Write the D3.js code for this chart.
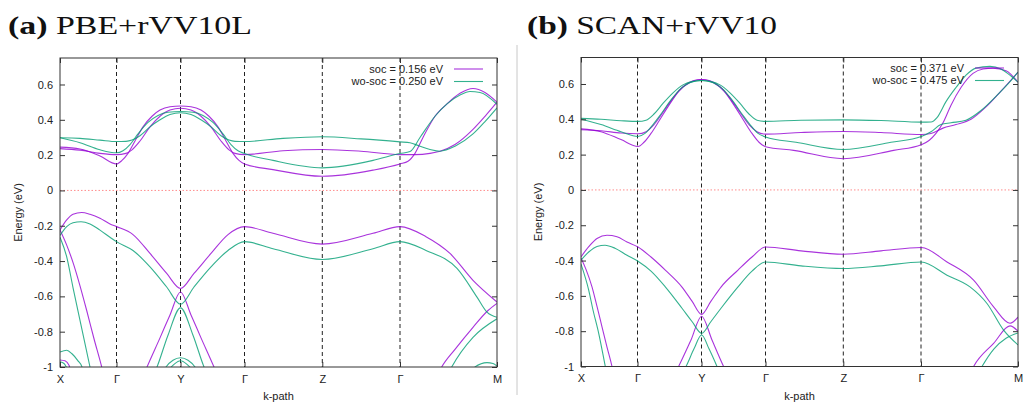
<!DOCTYPE html>
<html>
<head>
<meta charset="utf-8">
<script src="https://cdn.jsdelivr.net/npm/d3@7"></script>
<style>
body { margin: 0; background: #fff; }
text { font-family: "Liberation Sans", Arial, sans-serif; }
</style>
</head>
<body>
<script>
// k-path: positions of the high-symmetry points (same path in both panels)
var kTicks = [0, 56.5, 120.5, 184.5, 262.3, 340, 437];
var kLabels = ["X", "Γ", "Y", "Γ", "Z", "Γ", "M"];
var yTicks = [-1, -0.8, -0.6, -0.4, -0.2, 0, 0.2, 0.4, 0.6];

var socColor = "#9400d3";
var woColor = "#009e73";

// ---- (a) PBE+rVV10L, bands as [k, E(eV)] ----
var pbeSoc = [
  // conduction
  [[0,0.245],[20,0.235],[40,0.195],[56.5,0.150],[62,0.17],[68,0.21],[75,0.28],[83,0.36],[92,0.42],[100,0.455],[110,0.474],[120.5,0.478],
   [131,0.474],[141,0.455],[149,0.42],[158,0.36],[166,0.28],[173,0.21],[179,0.17],[184.5,0.150],[213,0.118],[262.3,0.080],[313,0.115],[340,0.150],
   [348,0.165],[355,0.21],[363,0.30],[375,0.42],[387,0.49],[400,0.55],[413,0.577],[425,0.555],[437,0.50]],
  [[0,0.237],[20,0.228],[40,0.210],[56.5,0.203],[66,0.21],[72,0.23],[80,0.28],[90,0.36],[100,0.42],[110,0.455],[120.5,0.465],
   [131,0.455],[141,0.42],[151,0.36],[161,0.28],[169,0.23],[175,0.21],[184.5,0.203],[223,0.225],[262.3,0.232],[301,0.222],[340,0.203],
   [355,0.203],[370,0.21],[380,0.222],[395,0.26],[413,0.346],[425,0.42],[437,0.50]],
  // valence
  [[0,-0.224],[6.7,-0.167],[13,-0.135],[21.7,-0.125],[30,-0.135],[40,-0.157],[50,-0.19],[56.5,-0.205],[73,-0.25],[90,-0.357],[106.7,-0.47],[120.5,-0.555],
   [134,-0.47],[151,-0.357],[168,-0.25],[184.5,-0.205],[213,-0.243],[262.3,-0.304],[313,-0.243],[340,-0.205],[366,-0.262],[390,-0.357],[413,-0.509],[437,-0.632]],
  [[84,-1.04],[87,-1.0],[100,-0.835],[110,-0.705],[120.5,-0.575],[131,-0.705],[141,-0.835],[154,-1.0],[157,-1.04]],
  [[0,-0.224],[6.7,-0.31],[13.3,-0.413],[20,-0.54],[26.7,-0.68],[34,-0.84],[41.7,-1.0],[43,-1.03]],
  [[378,-1.04],[381.7,-1.0],[395,-0.90],[413,-0.775],[428,-0.68],[437,-0.64]],
  [[0,-0.96],[5,-0.965],[9,-0.99],[11,-1.03]]
];
var pbeWoSoc = [
  [[0,0.298],[20,0.295],[40,0.285],[56.5,0.277],[66,0.278],[72,0.285],[80,0.31],[90,0.36],[100,0.40],[110,0.43],[120.5,0.44],
   [131,0.43],[141,0.40],[151,0.36],[161,0.31],[169,0.285],[175,0.278],[184.5,0.277],[223,0.295],[262.3,0.304],[301,0.292],[340,0.275],
   [350,0.27],[360,0.25],[370,0.232],[380,0.222],[395,0.25],[413,0.32],[425,0.39],[437,0.468]],
  [[0,0.298],[20,0.27],[40,0.23],[56.5,0.213],[63,0.225],[70,0.26],[78,0.32],[88,0.385],[98,0.425],[108,0.443],[120.5,0.447],
   [133,0.443],[143,0.425],[153,0.385],[163,0.32],[171,0.26],[178,0.225],[184.5,0.209],[213,0.17],[262.3,0.128],[313,0.17],[340,0.209],
   [350,0.22],[360,0.30],[375,0.42],[387,0.49],[400,0.54],[410,0.56],[420,0.555],[437,0.488]],
  [[0,-0.255],[6.7,-0.205],[13,-0.183],[21,-0.177],[30,-0.19],[40,-0.225],[50,-0.265],[56.5,-0.29],[73,-0.34],[90,-0.433],[106.7,-0.547],[120.5,-0.645],
   [134,-0.547],[151,-0.433],[168,-0.34],[184.5,-0.29],[213,-0.33],[262.3,-0.391],[313,-0.33],[340,-0.29],[366,-0.34],[397,-0.442],[417,-0.604],[427,-0.689],[437,-0.718]],
  [[94,-1.04],[97,-1.0],[108,-0.82],[120.5,-0.665],[133,-0.82],[144,-1.0],[147,-1.04]],
  [[0,-0.265],[6.7,-0.376],[13,-0.55],[20,-0.736],[30,-1.0],[31.5,-1.04]],
  [[388,-1.04],[391.7,-1.0],[413,-0.832],[437,-0.727]],
  [[0,-0.915],[6.7,-0.905],[12,-0.925],[18,-0.965],[22,-1.0],[23,-1.03]],
  [[0,-0.97],[4,-0.98],[8,-1.02]],
  [[103,-1.03],[106,-1.0],[113,-0.962],[120.5,-0.948],[128,-0.962],[135,-1.0],[138,-1.03]],
  [[108,-1.02],[114,-0.985],[120.5,-0.965],[127,-0.985],[133,-1.02]],
  [[413,-1.03],[415,-1.0],[427,-0.975],[433,-0.98],[437,-0.995]]
];

// ---- (b) SCAN+rVV10 ----
var scanSoc = [
  [[0,0.346],[20,0.33],[40,0.285],[57,0.246],[63,0.27],[70,0.32],[78,0.39],[88,0.48],[98,0.56],[108,0.605],[120.6,0.625],
   [133,0.605],[143,0.56],[153,0.48],[163,0.39],[171,0.32],[178,0.27],[184.6,0.245],[212.6,0.224],[262.3,0.177],[312.6,0.224],[340.3,0.256],
   [348,0.28],[355,0.32],[362,0.38],[370,0.48],[380,0.58],[392,0.66],[402,0.685],[412,0.69],[425,0.675],[437,0.61]],
  [[0,0.341],[20,0.335],[40,0.322],[57,0.318],[65,0.33],[73,0.37],[82,0.44],[92,0.52],[102,0.585],[112,0.618],[120.6,0.625],
   [129,0.618],[139,0.585],[149,0.52],[159,0.44],[168,0.37],[176,0.33],[184.6,0.316],[220,0.325],[262.3,0.331],[300,0.325],[340.3,0.314],
   [350,0.32],[362,0.35],[375,0.37],[390,0.40],[405,0.47],[420,0.56],[437,0.667]],
  [[0,-0.379],[8,-0.32],[16,-0.275],[26,-0.257],[36,-0.265],[46,-0.295],[57,-0.323],[70,-0.38],[84.3,-0.454],[101,-0.55],[111,-0.63],[120.6,-0.705],
   [130,-0.63],[140,-0.55],[157,-0.454],[171,-0.38],[184.6,-0.323],[220,-0.345],[262.3,-0.364],[300,-0.345],[340.3,-0.326],
   [366,-0.408],[392.6,-0.511],[412.6,-0.662],[429,-0.755],[437,-0.72]],
  [[94,-1.04],[97.6,-1.0],[110,-0.85],[120.6,-0.715],[131,-0.85],[142.6,-1.0],[146,-1.04]],
  [[0,-0.385],[5,-0.45],[11,-0.549],[16,-0.66],[21,-0.775],[26,-0.89],[31,-1.0],[32.5,-1.04]],
  [[389,-1.04],[392.6,-1.0],[412.6,-0.869],[429,-0.77],[437,-0.80]]
];
var scanWoSoc = [
  [[0,0.405],[20,0.40],[40,0.392],[57,0.388],[65,0.395],[73,0.43],[82,0.49],[92,0.55],[102,0.595],[112,0.615],[120.6,0.62],
   [129,0.615],[139,0.595],[149,0.55],[159,0.49],[168,0.43],[176,0.395],[184.6,0.388],[220,0.395],[262.3,0.397],[300,0.393],[340.3,0.384],
   [350,0.385],[356,0.41],[365,0.50],[375,0.58],[385,0.65],[395,0.69],[409,0.70],[420,0.685],[430,0.645],[437,0.61]],
  [[0,0.40],[20,0.37],[40,0.33],[57,0.303],[64,0.32],[72,0.37],[80,0.43],[90,0.51],[100,0.575],[110,0.61],[120.6,0.62],
   [131,0.61],[141,0.575],[151,0.51],[161,0.43],[169,0.37],[177,0.32],[184.6,0.30],[215,0.27],[262.3,0.229],[310,0.27],[340.3,0.303],
   [350,0.33],[360,0.37],[370,0.38],[385,0.395],[400,0.45],[415,0.53],[427,0.60],[437,0.667]],
  [[0,-0.398],[8,-0.35],[16,-0.32],[24,-0.313],[34,-0.33],[46,-0.37],[57,-0.404],[70,-0.46],[84.3,-0.549],[101,-0.67],[111,-0.745],[120.6,-0.812],
   [130,-0.745],[140,-0.67],[157,-0.549],[171,-0.46],[184.6,-0.408],[220,-0.43],[262.3,-0.445],[300,-0.43],[340.3,-0.408],
   [366,-0.483],[389,-0.549],[406,-0.643],[422.6,-0.794],[437,-0.878]],
  [[101,-1.04],[105,-1.0],[113,-0.9],[120.6,-0.822],[128,-0.9],[136,-1.0],[139,-1.04]],
  [[0,-0.42],[7.7,-0.567],[12,-0.68],[17.7,-0.812],[24.3,-1.0],[25.7,-1.04]],
  [[397,-1.04],[401,-1.0],[413,-0.9],[425,-0.84],[437,-0.81]]
];

var pbeLegend = ["soc = 0.156 eV", "wo-soc = 0.250 eV"];
var scanLegend = ["soc = 0.371 eV", "wo-soc = 0.475 eV"];

var svg = d3.select("body").append("svg")
  .attr("width", 1027)
  .attr("height", 403);

// thin separator between the two panels
svg.append("line")
  .attr("x1", 517).attr("x2", 517).attr("y1", 45).attr("y2", 395)
  .attr("stroke", "#c8c8c8").attr("stroke-width", 1);

function drawPanel(p) {
  var x = d3.scaleLinear().domain([0, 437]).range([p.left, p.right]);
  var y = d3.scaleLinear().domain([-1, 0.75]).range([p.bottom, p.top]);
  var g = svg.append("g");

  g.append("clipPath").attr("id", p.id)
    .append("rect")
    .attr("x", p.left).attr("y", p.top)
    .attr("width", p.right - p.left).attr("height", p.bottom - p.top);

  // Fermi level
  g.append("line")
    .attr("x1", p.left).attr("x2", p.right)
    .attr("y1", y(0)).attr("y2", y(0))
    .attr("stroke", "#ff5a5a").attr("stroke-opacity", 0.7)
    .attr("stroke-dasharray", "1.5,2");

  // high symmetry lines
  g.selectAll(".sym")
    .data(kTicks.slice(1, -1))
    .enter().append("line")
    .attr("x1", function(d) { return x(d); })
    .attr("x2", function(d) { return x(d); })
    .attr("y1", p.top).attr("y2", p.bottom)
    .attr("stroke", "#222")
    .attr("stroke-dasharray", "4,3");

  var line = d3.line()
    .x(function(d) { return x(d[0]); })
    .y(function(d) { return y(d[1]); })
    .curve(d3.curveMonotoneX);

  var bands = g.append("g").attr("clip-path", "url(#" + p.id + ")");
  bands.selectAll(".soc")
    .data(p.soc)
    .enter().append("path")
    .attr("d", line)
    .attr("fill", "none")
    .attr("stroke", socColor)
    .attr("stroke-opacity", 0.8)
    .attr("stroke-width", 1.1);
  bands.selectAll(".wo")
    .data(p.wo)
    .enter().append("path")
    .attr("d", line)
    .attr("fill", "none")
    .attr("stroke", woColor)
    .attr("stroke-opacity", 0.8)
    .attr("stroke-width", 1.1);

  // axes, ticks point inward like gnuplot
  var fmt = function(d) { return String(d); };
  var ax = g.append("g").attr("transform", "translate(" + p.left + ",0)")
    .call(d3.axisLeft(y).tickValues(yTicks).tickFormat(fmt).tickSize(-5).tickPadding(7));
  var ar = g.append("g").attr("transform", "translate(" + p.right + ",0)")
    .call(d3.axisRight(y).tickValues(yTicks).tickFormat("").tickSize(-5));
  var ab = g.append("g").attr("transform", "translate(0," + p.bottom + ")")
    .call(d3.axisBottom(x).tickValues(kTicks).tickFormat(function(d, i) { return kLabels[i]; }).tickSize(-5).tickPadding(8));
  var at = g.append("g").attr("transform", "translate(0," + p.top + ")")
    .call(d3.axisTop(x).tickValues(kTicks).tickFormat("").tickSize(-5));
  [ax, ar, ab, at].forEach(function(a) {
    a.select(".domain").remove();
    a.selectAll("line").attr("stroke", "#333");
    a.selectAll("text").attr("fill", "#222").style("font-size", "11px")
      .style("font-family", "'Liberation Sans', Arial, sans-serif");
  });

  g.append("rect")
    .attr("x", p.left).attr("y", p.top)
    .attr("width", p.right - p.left).attr("height", p.bottom - p.top)
    .attr("fill", "none").attr("stroke", "#333").attr("stroke-width", 1);

  // axis titles
  g.append("text")
    .attr("transform", "translate(" + p.ylabX + "," + ((p.top + p.bottom) / 2) + ") rotate(-90)")
    .attr("text-anchor", "middle")
    .attr("dy", "0.35em")
    .attr("fill", "#222")
    .style("font-size", "11px")
    .text("Energy (eV)");
  g.append("text")
    .attr("x", (p.left + p.right) / 2)
    .attr("y", 400)
    .attr("text-anchor", "middle")
    .attr("fill", "#222")
    .style("font-size", "11px")
    .text("k-path");

  // legend
  var leg = g.selectAll(".leg")
    .data(p.legend)
    .enter().append("g")
    .attr("transform", function(d, i) { return "translate(" + p.legX + "," + (p.legY + i * 12.5) + ")"; });
  leg.append("text")
    .attr("text-anchor", "end")
    .attr("dy", "0.35em")
    .attr("fill", "#222")
    .style("font-size", "11px")
    .text(function(d) { return d; });
  leg.append("line")
    .attr("x1", 11).attr("x2", 40)
    .attr("stroke", function(d, i) { return i == 0 ? socColor : woColor; })
    .attr("stroke-opacity", 0.8)
    .attr("stroke-width", 1.1);

  // panel title
  var t = svg.append("text")
    .attr("x", p.titleX)
    .attr("y", 34)
    .attr("fill", "#111")
    .attr("textLength", p.titleW)
    .attr("lengthAdjust", "spacingAndGlyphs")
    .style("font-family", "'Liberation Serif', 'DejaVu Serif', serif")
    .style("font-size", "25px");
  t.append("tspan").style("font-weight", "bold").text(p.tag);
  t.append("tspan").text(" " + p.title);
}

drawPanel({
  id: "clipA", left: 60, right: 497, top: 58, bottom: 367,
  soc: pbeSoc, wo: pbeWoSoc, legend: pbeLegend,
  legX: 443, legY: 69, ylabX: 18,
  tag: "(a)", title: "PBE+rVV10L", titleX: 8, titleW: 244
});
drawPanel({
  id: "clipB", left: 581, right: 1018, top: 57.5, bottom: 366.5,
  soc: scanSoc, wo: scanWoSoc, legend: scanLegend,
  legX: 964, legY: 68, ylabX: 538,
  tag: "(b)", title: "SCAN+rVV10", titleX: 527, titleW: 250
});
</script>
</body>
</html>
